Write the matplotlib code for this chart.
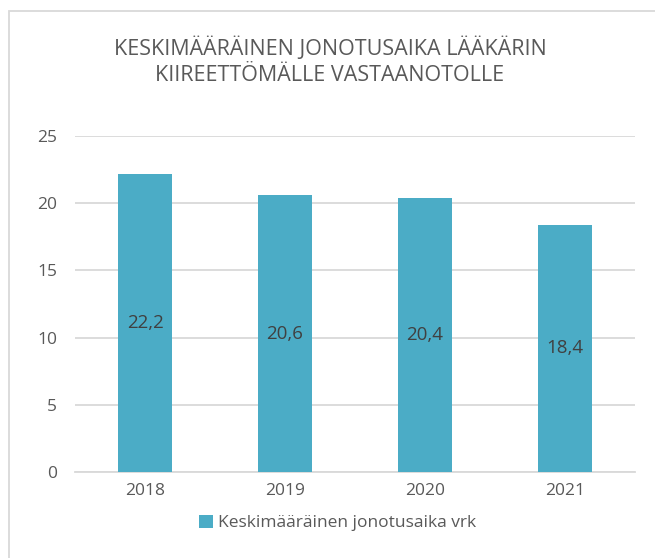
import matplotlib.pyplot as plt
from matplotlib.patches import Rectangle

years = ["2018", "2019", "2020", "2021"]
waits = [22.2, 20.6, 20.4, 18.4]
labels = ["22,2", "20,6", "20,4", "18,4"]
series_name = "Keskimääräinen jonotusaika vrk"
title = "KESKIMÄÄRÄINEN JONOTUSAIKA LÄÄKÄRIN\nKIIREETTÖMÄLLE VASTAANOTOLLE"

plt.rcParams['font.family'] = ['Open Sans', 'DejaVu Sans']
txt = '#595959'
bar_c = '#4BACC6'

fig = plt.figure(figsize=(6.55, 5.58), dpi=100)
# chart border
fig.patches.append(Rectangle((9/655, -0.01), 1.0, 1 - 11/558 + 0.01,
                             transform=fig.transFigure, fill=False,
                             edgecolor='#D9D9D9', linewidth=1.3))

ax = fig.add_axes([75/655, 1 - 472/558, 560/655, 336/558])
x = range(len(years))
bars = ax.bar(x, waits, width=0.39, color=bar_c, label=series_name, zorder=3)

for b, lab in zip(bars, labels):
    ax.text(b.get_x() + b.get_width()/2, b.get_height()/2, lab,
            ha='center', va='center', fontsize=13.5, color='#404040', zorder=4)

ax.set_xlim(-0.5, 3.5)
ax.set_ylim(0, 25)
ax.set_yticks(range(0, 26, 5))
ax.set_xticks(list(x))
ax.set_xticklabels(years)
ax.yaxis.grid(True, color='#D9D9D9', linewidth=1.3, zorder=0)
for s in ['top', 'right', 'left']:
    ax.spines[s].set_visible(False)
ax.spines['bottom'].set_color('#D9D9D9')
ax.spines['bottom'].set_linewidth(1.3)
ax.tick_params(length=0, labelsize=12.5, colors=txt, pad=8)
ax.tick_params(axis='y', pad=13)

fig.text(330/655, 1 - 61/558, title, ha='center', va='center',
         fontsize=15.5, color=txt, linespacing=1.3)

fig.legend(loc='center', bbox_to_anchor=(338/655, 1 - 523/558), frameon=False,
           fontsize=12.5, labelcolor=txt, handlelength=0.8, handleheight=0.8,
           handletextpad=0.3)

fig.savefig("out.png", dpi=100)
